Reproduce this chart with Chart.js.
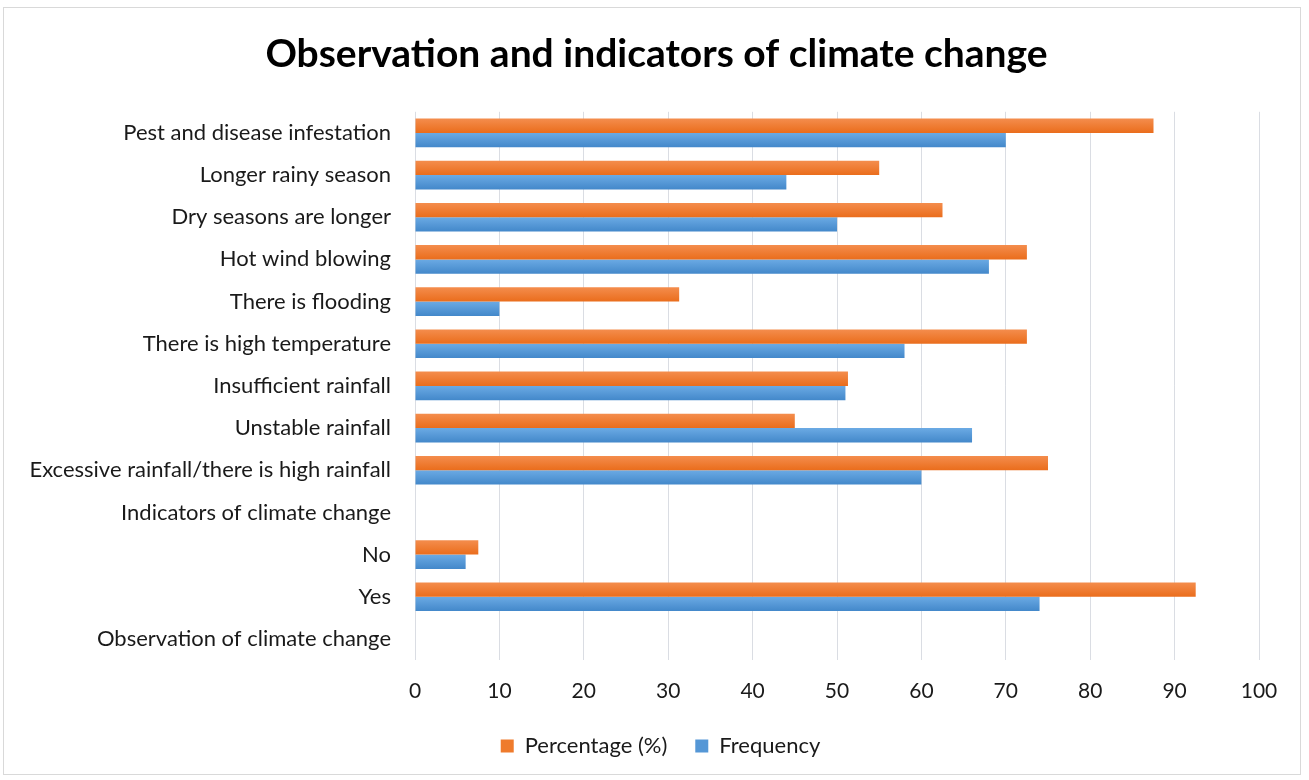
<!DOCTYPE html>
<html>
<head>
<meta charset="utf-8">
<script src="https://cdn.jsdelivr.net/npm/chart.js@4.4.1/dist/chart.umd.min.js"></script>
<style>
	body{ margin:0; background:#fff; }
	#frame{ position:absolute; left:3px; top:7px; width:1298px; height:768px; border:1px solid #D9D9D9; box-sizing:border-box; }
	#chart{ position:absolute; left:0; top:0; }
</style>
</head>
<body>
<div id="frame"></div>
<canvas id="chart" width="1309" height="780"></canvas>
<script>
// categories, top to bottom as in the picture
const categories = [
	'Pest and disease infestation',
	'Longer rainy season',
	'Dry seasons are longer',
	'Hot wind blowing',
	'There is flooding',
	'There is high temperature',
	'Insufficient rainfall',
	'Unstable rainfall',
	'Excessive rainfall/there is high rainfall',
	'Indicators of climate change',
	'No',
	'Yes',
	'Observation of climate change'
];
const percentage = [87.5, 55, 62.5, 72.5, 31.3, 72.5, 51.3, 45, 75, null, 7.5, 92.5, null];
const frequency = [70, 44, 50, 68, 10, 58, 51, 66, 60, null, 6, 74, null];
const xTicks = [0, 10, 20, 30, 40, 50, 60, 70, 80, 90, 100];

const fontName = 'Lato';
const textColor = '#1a1a1a';
const catPct = 0.68;

// left edge of the plot
const plotLeft = 415;

// top-to-bottom shading of each bar, like the office chart
function barShade(light, dark){
	return function(context){
		let chart = context.chart;
		let scale = chart.scales.y;
		if(!scale || context.dataIndex === undefined) return dark;
		let band = (scale.bottom - scale.top) / categories.length;
		let mid = scale.getPixelForValue(context.dataIndex);
		let half = band * catPct / 2;
		let top = context.datasetIndex === 0 ? mid - half : mid;
		let grad = chart.ctx.createLinearGradient(0, top, 0, top + half);
		grad.addColorStop(0, light);
		grad.addColorStop(1, dark);
		return grad;
	};
}

// nudge the title and legend to the centre of the frame, as in the picture
const centrePlugin = {
	id: 'centrePlugin',
	afterLayout(chart){
		if(chart.titleBlock){ chart.titleBlock.left += 27; chart.titleBlock.right += 27; }
		if(chart.legend){ chart.legend.left += 31; chart.legend.right += 31; }
	}
};

let ctx = document.querySelector('#chart').getContext('2d');
let myChart = new Chart(ctx, {
	type: 'bar',
	data: {
		labels: categories,
		datasets: [{
			label: 'Percentage (%)',
			data: percentage,
			backgroundColor: barShade('#F48D4D', '#EA6D1C'),
			categoryPercentage: catPct,
			barPercentage: 1.0
		}, {
			label: 'Frequency',
			data: frequency,
			backgroundColor: barShade('#6BAAE4', '#4388CA'),
			categoryPercentage: catPct,
			barPercentage: 1.0
		}]
	},
	options: {
		indexAxis: 'y',
		responsive: false,
		animation: false,
		layout: { padding: { top: 0, left: 0, right: 50, bottom: 13 } },
		plugins: {
			title: {
				display: true,
				text: 'Observation and indicators of climate change',
				color: '#000',
				font: { family: fontName, size: 39, weight: 'bold', lineHeight: 1.2 },
				padding: { top: 31, bottom: 34 }
			},
			legend: {
				position: 'bottom',
				labels: {
					color: textColor,
					font: { family: fontName, size: 22 },
					boxWidth: 13,
					boxHeight: 13,
					padding: 28,
					generateLabels: chart => chart.data.datasets.map((ds, i) => ({
						text: ds.label,
						fillStyle: i === 0 ? '#EF7B2C' : '#5597D6',
						strokeStyle: 'rgba(0,0,0,0)',
						lineWidth: 0,
						fontColor: textColor,
						datasetIndex: i
					}))
				}
			},
			tooltip: { enabled: false }
		},
		scales: {
			x: {
				min: 0,
				max: 100,
				afterBuildTicks: scale => { scale.ticks = xTicks.map(v => ({ value: v })); },
				grid: { color: '#DADDE3', lineWidth: 1, drawTicks: false },
				border: { display: false },
				ticks: { color: textColor, font: { family: fontName, size: 21 }, padding: 19 },
				afterFit: scale => { scale.height = 47; }
			},
			y: {
				grid: { display: false },
				border: { display: false },
				ticks: { color: textColor, font: { family: fontName, size: 22 }, padding: 16 },
				afterFit: scale => { scale.width = plotLeft; }
			}
		}
	},
	plugins: [centrePlugin]
});
</script>
</body>
</html>
